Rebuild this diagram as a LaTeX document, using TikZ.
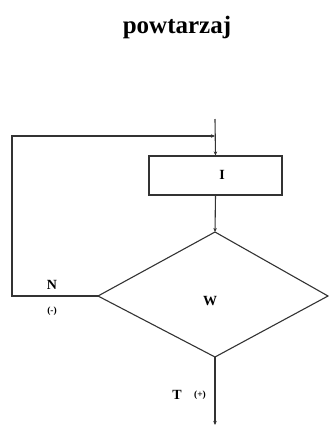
\documentclass[tikz,border=0pt]{standalone}
\usepackage{fontspec}
\setmainfont{Liberation Serif}
\usetikzlibrary{arrows.meta}
\begin{document}
\begin{tikzpicture}[x=1pt,y=-1pt,
  line/.style={line width=1.1pt,draw=black!80},
  arr/.style={line, -{Stealth[length=4pt,width=3.5pt]}},
  lbl/.style={font=\bfseries\fontsize{14}{14}\selectfont, inner sep=0pt},
  sml/.style={font=\bfseries\fontsize{9.5}{9.5}\selectfont, inner sep=0pt}]
\useasboundingbox (0,0) rectangle (329,432);
\node[font=\bfseries\fontsize{25}{25}\selectfont, inner sep=0pt] (title) at (177,27) {powtarzaj};
\coordinate (start) at (215,119);
\coordinate (join) at (215,136);
\node[line, draw, rectangle, minimum width=133pt, minimum height=39pt, inner sep=0pt] (I) at (215.5,175.5) {};
\node[lbl] (Ilbl) at (222,175) {I};
\draw[line] (98,296) -- (215,232) -- (328,296) -- (215,357) -- cycle;
\coordinate (dtop) at (215,232);
\coordinate (dleft) at (98,296);
\coordinate (dbot) at (215,357);
\node[lbl] (W) at (210,301) {W};
\coordinate (c1) at (12,296);
\coordinate (c2) at (12,136);
\coordinate (end) at (215,425);
\draw[arr] (start) -- (I.north);
\draw[arr] (dleft) -- (c1) -- (c2) -- (join);
\draw[arr] (I.south) -- (dtop);
\draw[arr] (dbot) -- (end);
\node[lbl] (N) at (52,285) {N};
\node[sml] (Nm) at (52,311) {(-)};
\node[lbl] (T) at (177,395) {T};
\node[sml] (Tp) at (200,395) {(+)};
\end{tikzpicture}
\end{document}
